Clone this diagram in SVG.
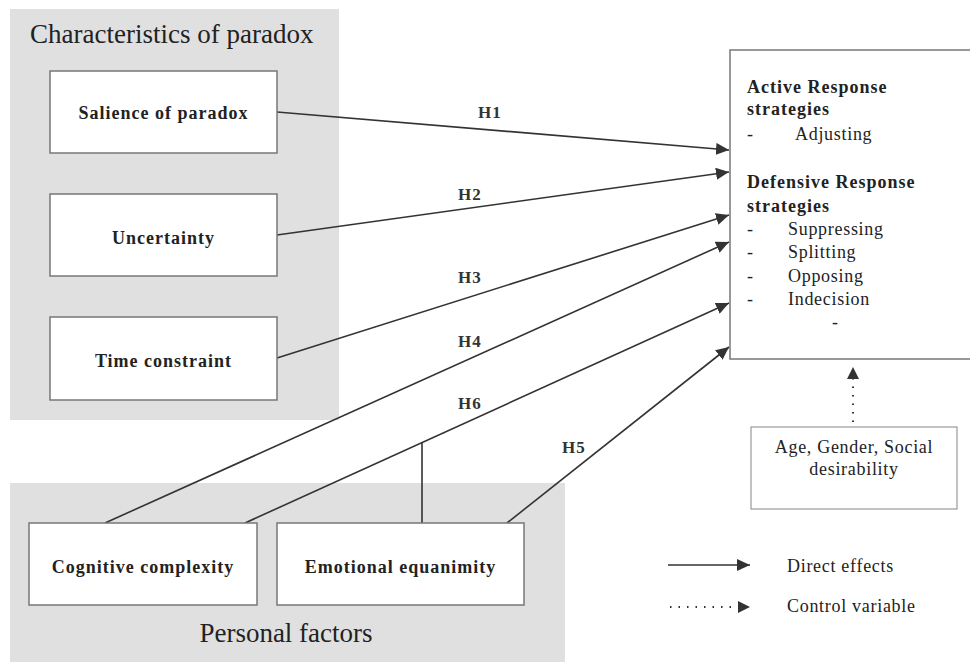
<svg xmlns="http://www.w3.org/2000/svg" width="970" height="662" viewBox="0 0 970 662">
<style>
.panel{fill:#e0e0e0;stroke:none}
.box{fill:#fff;stroke:#777;stroke-width:1.5}
.cbox{fill:#fff;stroke:#999;stroke-width:1.2}
.head{font-family:"Liberation Serif",serif;font-size:27px;fill:#222}
.lbl{font-family:"Liberation Serif",serif;font-size:18px;font-weight:bold;letter-spacing:1px;fill:#222;text-anchor:middle}
.bt{font-family:"Liberation Serif",serif;font-size:18px;font-weight:bold;letter-spacing:1px;fill:#222}
.rt{font-family:"Liberation Serif",serif;font-size:18px;letter-spacing:0.7px;fill:#222}
.h{font-family:"Liberation Serif",serif;font-size:17px;font-weight:bold;letter-spacing:1px;fill:#333}
.ln{stroke:#333;stroke-width:1.6;fill:none}
.dot{stroke:#333;stroke-width:2;fill:none;stroke-dasharray:1.5 7}
</style>
<defs>
<marker id="ah" markerUnits="userSpaceOnUse" markerWidth="14" markerHeight="12" refX="13" refY="6" orient="auto">
<path d="M0,0 L13,6 L0,12 Z" fill="#333"/>
</marker>
</defs>
<rect class="panel" x="10" y="9" width="329" height="411"/>
<rect class="panel" x="10" y="483" width="555" height="179"/>
<text class="head" x="30" y="43">Characteristics of paradox</text>
<text class="head" x="286" y="642" text-anchor="middle">Personal factors</text>
<g id="connectors">
<line class="ln" x1="277" y1="112" x2="729" y2="150" marker-end="url(#ah)"/>
<line class="ln" x1="277" y1="235" x2="729" y2="172" marker-end="url(#ah)"/>
<line class="ln" x1="277" y1="358" x2="729" y2="215" marker-end="url(#ah)"/>
<line class="ln" x1="105" y1="523" x2="729" y2="242" marker-end="url(#ah)"/>
<line class="ln" x1="245" y1="523" x2="729" y2="303" marker-end="url(#ah)"/>
<line class="ln" x1="507" y1="523" x2="729" y2="347" marker-end="url(#ah)"/>
<line class="ln" x1="422" y1="442" x2="422" y2="523"/>
<line class="dot" x1="853" y1="422" x2="853" y2="378"/>
<path d="M853,367 L859,379 L847,379 Z" fill="#333"/>
<text class="h" x="478" y="118">H1</text>
<text class="h" x="458" y="200">H2</text>
<text class="h" x="458" y="283">H3</text>
<text class="h" x="458" y="347">H4</text>
<text class="h" x="458" y="409">H6</text>
<text class="h" x="562" y="453">H5</text>
</g>
<g id="salience"><rect class="box" x="50" y="71" width="227" height="82"/><text class="lbl" x="163.5" y="119">Salience of paradox</text></g>
<g id="uncertainty"><rect class="box" x="50" y="194" width="227" height="82"/><text class="lbl" x="163.5" y="244">Uncertainty</text></g>
<g id="time"><rect class="box" x="50" y="317" width="227" height="83"/><text class="lbl" x="163.5" y="367">Time constraint</text></g>
<g id="cognitive"><rect class="box" x="29" y="523" width="228" height="82"/><text class="lbl" x="143" y="573">Cognitive complexity</text></g>
<g id="emotional"><rect class="box" x="277" y="523" width="247" height="82"/><text class="lbl" x="400.5" y="573">Emotional equanimity</text></g>
<g id="response">
<rect class="box" x="730" y="50" width="245" height="309"/>
<text class="bt" x="747" y="93">Active Response</text>
<text class="bt" x="747" y="115">strategies</text>
<text class="rt" x="747" y="140">-</text><text class="rt" x="795" y="140">Adjusting</text>
<text class="bt" x="747" y="188">Defensive Response</text>
<text class="bt" x="747" y="212">strategies</text>
<text class="rt" x="747" y="235">-</text><text class="rt" x="788" y="235">Suppressing</text>
<text class="rt" x="747" y="258">-</text><text class="rt" x="788" y="258">Splitting</text>
<text class="rt" x="747" y="282">-</text><text class="rt" x="788" y="282">Opposing</text>
<text class="rt" x="747" y="305">-</text><text class="rt" x="788" y="305">Indecision</text>
<text class="rt" x="832" y="328">-</text>
</g>
<g id="control">
<rect class="cbox" x="751" y="427" width="206" height="82"/>
<text class="rt" x="854" y="453" text-anchor="middle">Age, Gender, Social</text>
<text class="rt" x="854" y="475" text-anchor="middle">desirability</text>
</g>
<g id="legend">
<line class="ln" x1="668" y1="565" x2="750" y2="565" marker-end="url(#ah)"/>
<line class="dot" x1="670" y1="607" x2="738" y2="607"/>
<path d="M750,607 L738,601 L738,613 Z" fill="#333"/>
<text class="rt" x="787" y="572">Direct effects</text>
<text class="rt" x="787" y="612">Control variable</text>
</g>
</svg>
